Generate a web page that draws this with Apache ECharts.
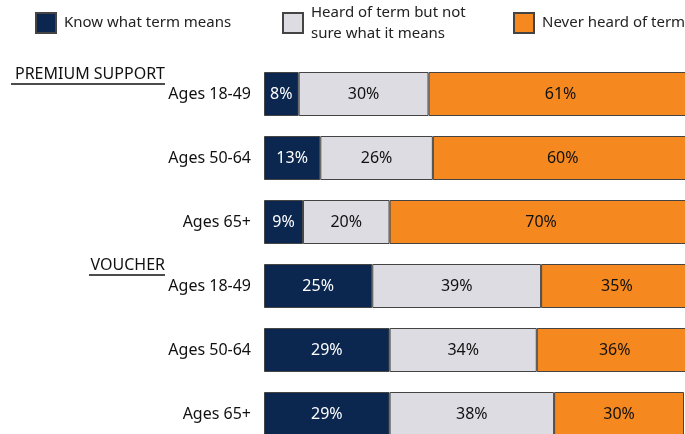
<!DOCTYPE html>
<html>
<head>
<meta charset="utf-8">
<script src="https://cdn.jsdelivr.net/npm/echarts@6/dist/echarts.min.js"></script>
<style>
    html, body { margin: 0; padding: 0; background: #fff; }
    #container { width: 685px; height: 434px; }
</style>
</head>
<body>
<div id="container"></div>
<script type="text/javascript">
    // rows, top to bottom
    var categories = ['Ages 18-49', 'Ages 50-64', 'Ages 65+', 'Ages 18-49 ', 'Ages 50-64 ', 'Ages 65+ '];
    var seriesNames = ['Know what term means', 'Heard of term but not\nsure what it means', 'Never heard of term'];
    var knowValues = [8, 13, 9, 25, 29, 29];
    var heardValues = [30, 26, 20, 39, 34, 38];
    var neverValues = [61, 60, 70, 35, 36, 30];
    var colors = ['#0b2750', '#dcdce2', '#f5891f'];
    var labelColors = ['#ffffff', '#111111', '#111111'];

    var font = '"Noto Sans", "Open Sans", sans-serif';
    var dom = document.getElementById('container');
    var myChart = echarts.init(dom);

    function makeSeries(i, values) {
        return {
            name: seriesNames[i],
            type: 'bar',
            stack: 'total',
            barWidth: 44,
            data: values,
            itemStyle: {
                color: colors[i],
                borderColor: '#444',
                borderWidth: 1
            },
            label: {
                show: true,
                position: 'inside',
                formatter: '{c}%',
                color: labelColors[i],
                fontFamily: font,
                fontSize: 16
            }
        };
    }

    function makeLegend(i, left, top) {
        return {
            data: [seriesNames[i]],
            left: left,
            top: top,
            padding: 0,
            icon: 'rect',
            itemWidth: 20,
            itemHeight: 20,
            itemGap: 0,
            textStyle: {
                fontSize: 15,
                color: '#222',
                fontFamily: font,
                lineHeight: 21,
                padding: [0, 0, 0, 3]
            }
        };
    }

    var option = {
        animation: false,
        textStyle: { fontFamily: font },
        legend: [
            makeLegend(0, 35, 12),
            makeLegend(1, 282, 2),
            makeLegend(2, 513, 12)
        ],
        grid: {
            left: 264,
            top: 62,
            width: 433,
            height: 384,
            containLabel: false,
            outerBoundsMode: 'none'
        },
        xAxis: {
            type: 'value',
            min: 0,
            max: 100,
            show: false
        },
        yAxis: {
            type: 'category',
            inverse: true,
            data: categories,
            axisLine: { show: false },
            axisTick: { show: false },
            axisLabel: {
                margin: 13,
                fontSize: 16,
                color: '#111',
                fontFamily: font,
                formatter: function (v) { return v.trim(); }
            }
        },
        graphic: [
            {
                type: 'text', right: 520, top: 66,
                style: { text: 'PREMIUM SUPPORT', font: '16px ' + font, fill: '#111' }
            },
            {
                type: 'line', shape: { x1: 11, y1: 84, x2: 165, y2: 84 },
                style: { stroke: '#111', lineWidth: 1.5 }
            },
            {
                type: 'text', right: 520, top: 257,
                style: { text: 'VOUCHER', font: '16px ' + font, fill: '#111' }
            },
            {
                type: 'line', shape: { x1: 89, y1: 275, x2: 165, y2: 275 },
                style: { stroke: '#111', lineWidth: 1.5 }
            }
        ],
        series: [
            makeSeries(0, knowValues),
            makeSeries(1, heardValues),
            makeSeries(2, neverValues)
        ]
    };

    if (option && typeof option === 'object') {
        myChart.setOption(option);
    }
</script>
</body>
</html>
